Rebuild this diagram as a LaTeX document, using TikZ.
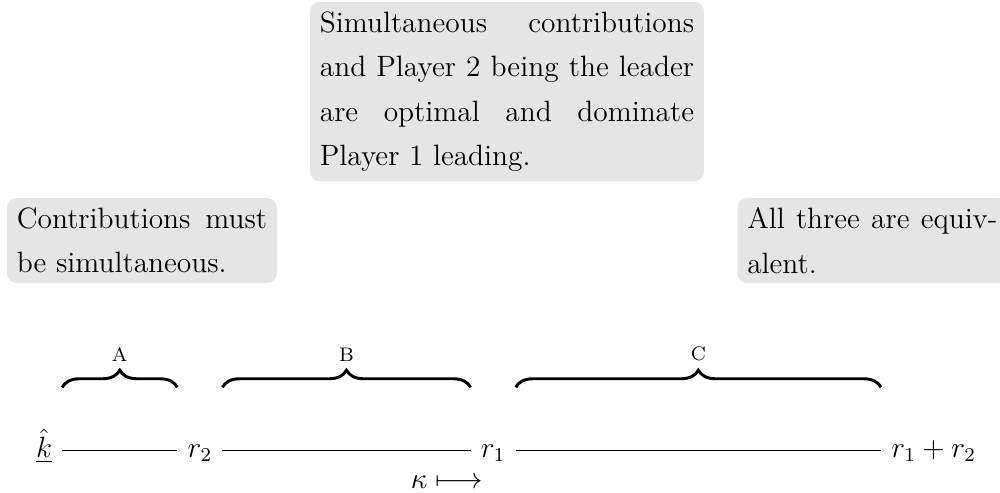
\documentclass[12pt,tikz,border=0pt]{standalone}
\usepackage{amsmath,amssymb}
\usepackage{tikz}
\usetikzlibrary{positioning,decorations.pathreplacing}
\linespread{1.25}

\begin{document}
\begin{tikzpicture}[
  note/.style={fill=gray!20, rounded corners=4pt, text width=#1, align=justify},
  note/.default=3.59cm,
  pt/.style={text height=1.6ex, text depth=.5ex},
  brc/.style={decorate, decoration={brace, amplitude=7pt}, very thick},
  lbl/.style={midway, above=6pt, font=\scriptsize}
]
  \useasboundingbox (-0.631,-0.502) rectangle (13.716,6.557);

  % points on the line
  \node[pt, anchor=base] (k) at (0,0) {$\underline{\hat{k}}$};
  \node[pt, base right=1.65cm of k] (r2) {$r_2$};
  \node[pt, base right=3.56cm of r2] (r1) {$r_1$};
  \node[pt, base right=5.24cm of r1] (sum) {$r_1+r_2$};
  \node[anchor=base east] (kappa) at ([yshift=-4.45mm]r1.base) {$\kappa\longmapsto$};

  \draw (k) -- (r2);
  \draw (r2) -- (r1);
  \draw (r1) -- (sum);

  % regions
  \draw[brc] ([yshift=9mm]k.east) -- ([yshift=9mm]r2.west) node[lbl] (a) {A};
  \draw[brc] ([yshift=9mm]r2.east) -- ([yshift=9mm]r1.west) node[lbl] (b) {B};
  \draw[brc] ([yshift=9mm]r1.east) -- ([yshift=9mm]sum.west) node[lbl] (c) {C};

  % comments
  \node[note] (na) at (1.406,3.106) {Contributions must be simultaneous.};
  \node[note=5.37cm] (nb) at (6.643,5.244) {Simultaneous contributions and Player 2 being the leader are optimal and dominate Player 1 leading.};
  \node[note, anchor=west] (nc) at (9.943,3.106) {All three are equivalent.};
\end{tikzpicture}
\end{document}
